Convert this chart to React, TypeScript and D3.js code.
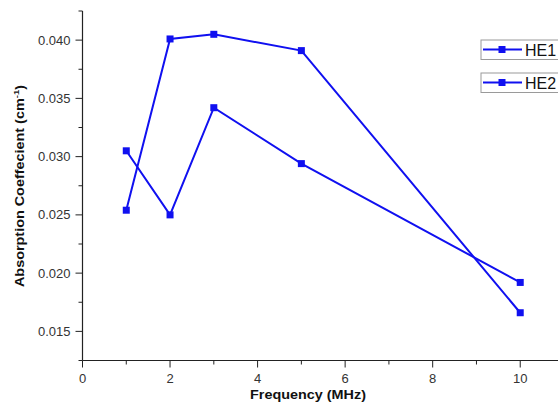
import React, { useEffect, useRef } from "react";
import * as d3 from "d3";

// frequencies (MHz)
const freqs = [1, 2, 3, 5, 10];
// absorption coefficient values (cm^-1)
const he1 = [0.0254, 0.0401, 0.0405, 0.0391, 0.0166];
const he2 = [0.0305, 0.025, 0.0342, 0.0294, 0.0192];
const seriesNames = ["HE1", "HE2"];
const xTicks = [0, 2, 4, 6, 8, 10];
const yTicks = [0.015, 0.02, 0.025, 0.03, 0.035, 0.04];

const W = 558;
const H = 406;

export default function App() {
  const ref = useRef<SVGSVGElement>(null);

  useEffect(() => {
    const svg = d3.select(ref.current);
    svg.selectAll("*").remove();

    const left = 82.5, right = 564, top = 11, bottom = 360.5;
    const x = d3.scaleLinear().domain([0, 11]).range([left, right]);
    const y = d3.scaleLinear().domain([0.0125, 0.0425]).range([bottom, top]);
    const font = "Liberation Sans, Arial, sans-serif";

    svg.append("rect").attr("width", W).attr("height", H).attr("fill", "#fff");

    // y axis
    const yAxis = svg.append("g").attr("transform", `translate(${left},0)`);
    yAxis.append("line").attr("y1", top).attr("y2", bottom).attr("stroke", "#222").attr("stroke-width", 1.2);
    const yMinor = d3.range(0.0125, 0.0426, 0.005);
    yAxis.selectAll(".ymin").data(yMinor).enter().append("line")
      .attr("x1", -4).attr("x2", 0).attr("y1", d => y(d)).attr("y2", d => y(d))
      .attr("stroke", "#222").attr("stroke-width", 1);
    yAxis.selectAll(".ymaj").data(yTicks).enter().append("line")
      .attr("x1", -7).attr("x2", 0).attr("y1", d => y(d)).attr("y2", d => y(d))
      .attr("stroke", "#222").attr("stroke-width", 1);
    yAxis.selectAll(".ylab").data(yTicks).enter().append("text")
      .attr("x", -12).attr("y", d => y(d) + 4.5).attr("text-anchor", "end")
      .attr("font-family", font).attr("font-size", 13).attr("fill", "#333")
      .text(d => d3.format(".3f")(d));

    // x axis
    const xAxis = svg.append("g").attr("transform", `translate(0,${bottom})`);
    xAxis.append("line").attr("x1", left).attr("x2", right).attr("stroke", "#222").attr("stroke-width", 1.2);
    xAxis.selectAll(".xmin").data([1, 3, 5, 7, 9]).enter().append("line")
      .attr("x1", d => x(d)).attr("x2", d => x(d)).attr("y1", 0).attr("y2", 4)
      .attr("stroke", "#222").attr("stroke-width", 1);
    xAxis.selectAll(".xmaj").data(xTicks).enter().append("line")
      .attr("x1", d => x(d)).attr("x2", d => x(d)).attr("y1", 0).attr("y2", 7)
      .attr("stroke", "#222").attr("stroke-width", 1);
    xAxis.selectAll(".xlab").data(xTicks).enter().append("text")
      .attr("x", d => x(d)).attr("y", 22).attr("text-anchor", "middle")
      .attr("font-family", font).attr("font-size", 13).attr("fill", "#333")
      .text(d => String(d));

    // axis titles (slightly stretched, like the original)
    svg.append("text").attr("transform", "translate(308,399) scale(1.2,1)").attr("text-anchor", "middle")
      .attr("font-family", font).attr("font-size", 12).attr("font-weight", "bold")
      .attr("fill", "#111").text("Frequency (MHz)");
    const yt = svg.append("text").attr("transform", "translate(24,186) rotate(-90) scale(1.2,1)").attr("text-anchor", "middle")
      .attr("font-family", font).attr("font-size", 12).attr("font-weight", "bold")
      .attr("fill", "#111");
    yt.append("tspan").text("Absorption Coeffecient (cm");
    yt.append("tspan").attr("font-size", 8).attr("dy", -5).text("-1");
    yt.append("tspan").attr("dy", 5).text(")");

    // series
    const color = "#1010f0";
    const line = d3.line<[number, number]>().x(d => x(d[0])).y(d => y(d[1]));
    [he1, he2].forEach(vals => {
      const pts: [number, number][] = freqs.map((f, i) => [f, vals[i]]);
      svg.append("path").attr("d", line(pts)).attr("fill", "none").attr("stroke", color).attr("stroke-width", 2);
      svg.selectAll(null).data(pts).enter().append("rect")
        .attr("x", d => x(d[0]) - 3.5).attr("y", d => y(d[1]) - 3.5)
        .attr("width", 7).attr("height", 7).attr("fill", color);
    });

    // legend
    const legY = [40, 73];
    seriesNames.forEach((name, i) => {
      const g = svg.append("g").attr("transform", `translate(481,${legY[i]})`);
      g.append("rect").attr("x", 0).attr("y", 0).attr("width", 90).attr("height", 19.5)
        .attr("fill", "#fff").attr("stroke", "#9a9a9a").attr("stroke-width", 1);
      g.append("line").attr("x1", 2).attr("x2", 41).attr("y1", 9.5).attr("y2", 9.5)
        .attr("stroke", color).attr("stroke-width", 2);
      g.append("rect").attr("x", 17.5).attr("y", 6).attr("width", 7).attr("height", 7).attr("fill", color);
      g.append("text").attr("x", 44).attr("y", 15.5)
        .attr("font-family", font).attr("font-size", 16).attr("fill", "#111")
        .text(name);
    });
  }, []);

  return (
    <svg ref={ref} width={W} height={H}
      style={{ position: "absolute", left: 0, top: 0, display: "block" }} />
  );
}
